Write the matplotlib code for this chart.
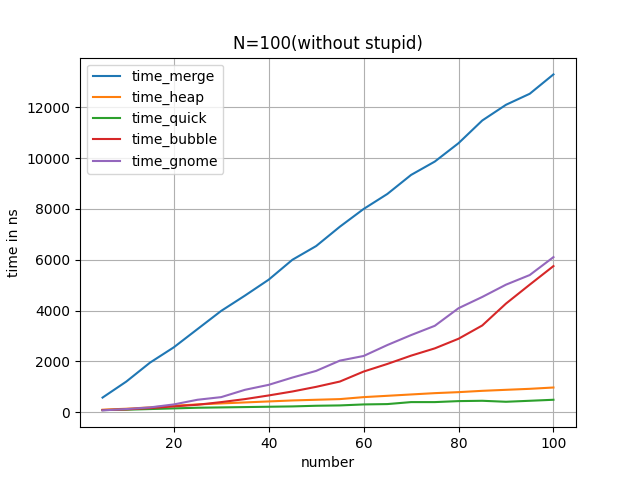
import matplotlib
matplotlib.use("Agg")
import matplotlib.pyplot as plt

number = [5, 10, 15, 20, 25, 30, 35, 40, 45, 50, 55, 60, 65, 70, 75, 80, 85, 90, 95, 100]
time_merge = [570, 1200, 1947, 2549, 3268, 3986, 4588, 5215, 6000, 6540, 7303, 8000, 8592, 9342, 9869, 10593, 11487, 12106, 12540, 13303]
time_heap = [92, 131, 183, 248, 300, 340, 379, 418, 457, 484, 510, 588, 640, 693, 745, 784, 836, 876, 915, 967]
time_quick = [78, 92, 118, 144, 170, 183, 196, 209, 222, 248, 261, 300, 314, 392, 392, 431, 444, 405, 444, 484]
time_bubble = [78, 105, 157, 222, 288, 392, 510, 654, 810, 993, 1202, 1595, 1895, 2222, 2509, 2888, 3411, 4274, 5019, 5751]
time_gnome = [65, 118, 183, 300, 484, 588, 876, 1072, 1359, 1621, 2026, 2209, 2640, 3032, 3398, 4091, 4535, 5019, 5398, 6104]

fig, ax = plt.subplots(figsize=(6.4, 4.8), dpi=100)
ax.plot(number, time_merge, label="time_merge")
ax.plot(number, time_heap, label="time_heap")
ax.plot(number, time_quick, label="time_quick")
ax.plot(number, time_bubble, label="time_bubble")
ax.plot(number, time_gnome, label="time_gnome")
ax.set_title("N=100(without stupid)")
ax.set_xlabel("number")
ax.set_ylabel("time in ns")
ax.grid(True)
ax.legend(loc="upper left")
fig.savefig("out.png")
